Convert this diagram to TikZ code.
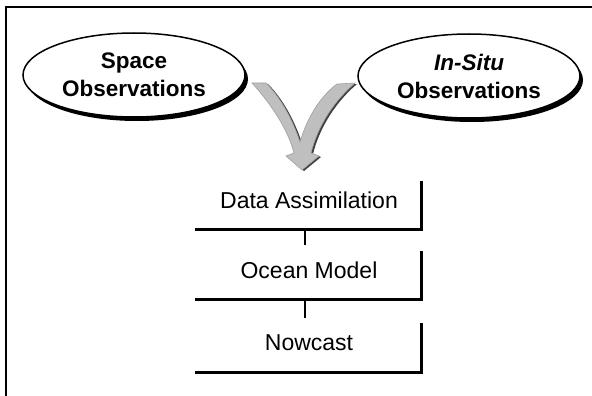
\documentclass[tikz,border=0pt]{standalone}
\usepackage{fontspec}
\setmainfont{Liberation Sans}
\usetikzlibrary{shapes.geometric,shadows}

\tikzset{
  obs/.style={ellipse, draw, line width=1.5pt, fill=white, inner sep=0pt,
    minimum width=222pt, minimum height=84pt, align=center,
    font=\fontsize{22.5}{28}\selectfont\bfseries,
    general shadow={shadow xshift=3pt, shadow yshift=-4pt, fill=black}},
  stage/.style={rectangle, inner sep=0pt, minimum width=224pt, minimum height=47pt,
    text height=16pt, text depth=12pt, font=\fontsize{23}{26}\selectfont},
  boxline/.style={line width=3pt, line cap=rect},
  link/.style={line width=1.5pt, shorten >=7pt},
}

\begin{document}
\begin{tikzpicture}[x=1pt, y=-1pt]
  \useasboundingbox (0,0) rectangle (592,396);
  % frame
  \draw[line width=2pt] (6,396) -- (6,7) -- (592,7);

  % the two observation sources
  \node[obs] (space) at (134,75) {Space\\Observations};
  \node[obs] (insitu) at (469,76) {\textit{In-Situ}\\Observations};

  % merging arrow
  \fill[black!75, shift={(2,1)}]
    (252,83) .. controls (272,105) and (288,130) .. (294,153)
    -- (286,156) -- (302,170) -- (319,156) -- (311,153)
    .. controls (318,125) and (335,100) .. (355,83)
    -- (337,84) .. controls (322,95) and (308,115) .. (300,142)
    .. controls (292,118) and (280,97) .. (266,83) -- cycle;
  \filldraw[fill=gray!50, draw=gray!75, line width=0.6pt]
    (252,83) .. controls (272,105) and (288,130) .. (294,153)
    -- (286,156) -- (302,170) -- (319,156) -- (311,153)
    .. controls (318,125) and (335,100) .. (355,83)
    -- (337,84) .. controls (322,95) and (308,115) .. (300,142)
    .. controls (292,118) and (280,97) .. (266,83) -- cycle;

  % processing chain
  \node[stage] (assim) at (309,206) {Data Assimilation};
  \node[stage] (model) at (309,276) {Ocean Model};
  \node[stage] (now) at (309,348.5) {Nowcast};

  \draw[boxline] (assim.south west) -- (assim.south east) -- (assim.north east);
  \draw[boxline] (model.south west) -- (model.south east) -- (model.north east);
  \draw[boxline] (now.south west) -- (now.south east) -- (now.north east);

  \draw[link] ([xshift=-4pt]assim.south) -- ([xshift=-4pt]model.north);
  \draw[link] ([xshift=-4pt]model.south) -- ([xshift=-4pt]now.north);
\end{tikzpicture}
\end{document}
